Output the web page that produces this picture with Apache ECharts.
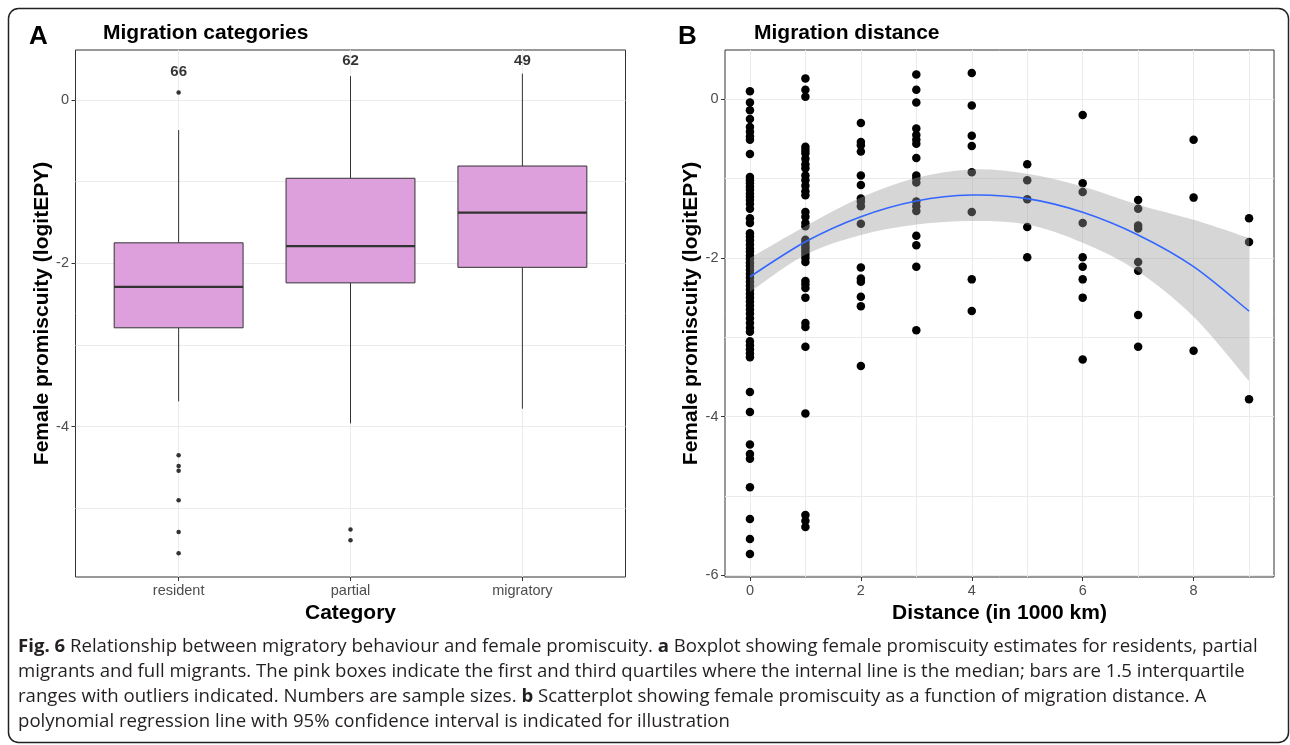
<!DOCTYPE html>
<html><head><meta charset="utf-8">
<script src="https://cdn.jsdelivr.net/npm/echarts@6/dist/echarts.min.js"></script>
<style>html,body{margin:0;padding:0;background:#fff}#c{width:1290px;height:745px}</style>
</head><body><div id="c"></div>
<script>
// ---------- Panel A: migration categories ----------
const categories = ['resident', 'partial', 'migratory'];
const sampleSizes = [66, 62, 49];
const sampleLabelY = [0.34, 0.48, 0.48];
// [lower whisker, Q1, median, Q3, upper whisker]
const boxResident = [-3.69, -2.79, -2.29, -1.75, -0.37];
const boxPartial = [-3.96, -2.24, -1.79, -0.96, 0.29];
const boxMigratory = [-3.78, -2.05, -1.38, -0.81, 0.32];
const outliersResident = [0.09, -4.35, -4.48, -4.54, -4.90, -5.29, -5.55];
const outliersPartial = [-5.26, -5.39];
const outliersMigratory = [];
const yTicksA = [-4, -2, 0];
const yGridA = [-5, -4, -3, -2, -1, 0];

// ---------- Panel B: migration distance ----------
const dist0 = [0.10, -0.04, -0.14, -0.25, -0.35, -0.41, -0.47, -0.51, -0.69,
  -0.98, -1.02, -1.06, -1.10, -1.14, -1.19, -1.23, -1.27, -1.32, -1.38,
  -1.50, -1.56,
  -1.69, -1.73, -1.78, -1.83, -1.88, -1.92, -1.97, -2.01, -2.06, -2.10, -2.15, -2.20, -2.25,
  -2.30, -2.35, -2.40, -2.45, -2.50, -2.55, -2.60, -2.65, -2.70, -2.76, -2.82, -2.88, -2.93,
  -3.05, -3.10, -3.15, -3.20, -3.25,
  -3.69, -3.94, -4.35, -4.47, -4.53, -4.89, -5.29, -5.54, -5.73];
const dist1 = [0.26, 0.12, 0.03, -0.60, -0.64, -0.68, -0.75, -0.82, -0.87, -0.96, -1.02, -1.09,
  -1.16, -1.21, -1.42, -1.48, -1.56, -1.60, -1.77, -1.81, -1.85, -1.88, -1.92, -1.96, -2.00,
  -2.05, -2.29, -2.33, -2.38, -2.50, -2.82, -2.87, -3.12, -3.96, -5.24, -5.31, -5.39];
const dist2 = [-0.30, -0.54, -0.58, -0.66, -0.96, -1.08, -1.25, -1.29, -1.35, -1.57, -2.12, -2.26, -2.30, -2.49, -2.61, -3.36];
const dist3 = [0.31, 0.12, -0.04, -0.37, -0.45, -0.51, -0.56, -0.74, -0.96, -1.00, -1.05, -1.29, -1.35, -1.41, -1.72, -1.84, -2.11, -2.91];
const dist4 = [0.33, -0.08, -0.46, -0.59, -0.92, -1.42, -2.27, -2.67];
const dist5 = [-0.82, -1.02, -1.26, -1.61, -1.99];
const dist6 = [-0.20, -1.06, -1.17, -1.56, -1.99, -2.11, -2.27, -2.50, -3.28];
const dist7 = [-1.27, -1.38, -1.59, -1.63, -2.05, -2.16, -2.72, -3.12];
const dist8 = [-0.51, -1.24, -3.17];
const dist9 = [-1.50, -1.80, -3.78];
const distColumns = [dist0, dist1, dist2, dist3, dist4, dist5, dist6, dist7, dist8, dist9];

const fitX = [0, 1, 2, 3, 4, 5, 6, 7, 8, 9];
const fitY = [-2.237, -1.796, -1.48, -1.282, -1.207, -1.253, -1.425, -1.711, -2.11, -2.67];
const ciUpper = [-2.00, -1.60, -1.24, -0.99, -0.885, -0.94, -1.10, -1.33, -1.52, -1.75];
const ciLower = [-2.43, -1.96, -1.71, -1.58, -1.535, -1.58, -1.81, -2.17, -2.74, -3.55];
const xTicksB = [0, 2, 4, 6, 8];
const xGridB = [0, 1, 2, 3, 4, 5, 6, 7, 8, 9];
const yTicksB = [-6, -4, -2, 0];
const yGridB = [-6, -5, -4, -3, -2, -1, 0];

// ---------- build ----------
const FONT = "'Liberation Sans', Arial, Helvetica, sans-serif";
const CAP = "'Open Sans', sans-serif";
const CAPSIZE = 18.6;
const labelStyle = { color: '#4D4D4D', fontSize: 14.5, fontFamily: FONT };
const nameStyle = { color: '#000', fontSize: 21, fontWeight: 'bold', fontFamily: FONT };
const gridLine = { show: true, lineStyle: { color: '#EBEBEB', width: 1 } };
const tickStyle = { show: true, length: 4, lineStyle: { color: '#333', width: 1 } };
const noLine = { show: false, onZero: false };

const boxes = [boxResident, boxPartial, boxMigratory].map((b, i) => [i + 1].concat(b));
const outlierData = [];
[outliersResident, outliersPartial, outliersMigratory].forEach((arr, i) => arr.forEach(v => outlierData.push([i + 1, v])));
const nLabels = sampleSizes.map((n, i) => [i + 1, sampleLabelY[i], n]);

const scatterB = [];
distColumns.forEach((col, d) => col.forEach(v => scatterB.push([d, v])));
const bandData = fitX.map((x, i) => [x, ciLower[i], ciUpper[i]]);
const fitData = fitX.map((x, i) => [x, fitY[i]]);

// Catmull-Rom -> cubic Bezier path through screen points (drawing only)
function curveThrough(pts, moveFirst) {
  let d = (moveFirst ? 'M' : 'L') + pts[0][0] + ',' + pts[0][1];
  for (let i = 0; i < pts.length - 1; i++) {
    const p0 = pts[Math.max(i - 1, 0)], p1 = pts[i], p2 = pts[i + 1], p3 = pts[Math.min(i + 2, pts.length - 1)];
    const c1 = [p1[0] + (p2[0] - p0[0]) / 6, p1[1] + (p2[1] - p0[1]) / 6];
    const c2 = [p2[0] - (p3[0] - p1[0]) / 6, p2[1] - (p3[1] - p1[1]) / 6];
    d += 'C' + c1[0] + ',' + c1[1] + ' ' + c2[0] + ',' + c2[1] + ' ' + p2[0] + ',' + p2[1];
  }
  return d;
}

const chart = echarts.init(document.getElementById('c'), null, { renderer: 'canvas' });
chart.setOption({
  animation: false,
  backgroundColor: '#fff',
  grid: [
    { left: 75.5, top: 50, width: 550, height: 527, show: true, borderColor: '#333', borderWidth: 1, backgroundColor: 'transparent' },
    { left: 725, top: 50, width: 549, height: 527, show: true, borderColor: '#333', borderWidth: 1, backgroundColor: 'transparent' }
  ],
  xAxis: [
    { gridIndex: 0, type: 'value', min: 0.4, max: 3.6, position: 'bottom',
      axisLine: noLine, axisTick: Object.assign({ customValues: [1, 2, 3] }, tickStyle),
      axisLabel: Object.assign({ customValues: [1, 2, 3], margin: 6, formatter: v => categories[Math.round(v) - 1] }, labelStyle),
      splitLine: gridLine,
      name: 'Category', nameLocation: 'middle', nameGap: 12, nameTextStyle: nameStyle },
    { gridIndex: 1, type: 'value', min: -0.45, max: 9.45, position: 'bottom',
      axisLine: noLine, axisTick: { show: false, customValues: xGridB },
      axisLabel: Object.assign({ customValues: xTicksB, margin: 6 }, labelStyle),
      splitLine: gridLine,
      name: 'Distance (in 1000 km)', nameLocation: 'middle', nameGap: 12, nameTextStyle: nameStyle },
    { gridIndex: 1, type: 'value', min: -0.45, max: 9.45, position: 'bottom',
      axisLine: noLine, axisTick: Object.assign({ customValues: xTicksB }, tickStyle),
      axisLabel: { show: false }, splitLine: { show: false } }
  ],
  yAxis: [
    { gridIndex: 0, type: 'value', min: -5.84, max: 0.61, position: 'left',
      axisLine: noLine, axisTick: { show: false, customValues: yGridA },
      axisLabel: Object.assign({ customValues: yTicksA, margin: 6.5 }, labelStyle),
      splitLine: gridLine,
      name: 'Female promiscuity (logitEPY)', nameLocation: 'middle', nameGap: 17, nameTextStyle: nameStyle },
    { gridIndex: 0, type: 'value', min: -5.84, max: 0.61, position: 'left',
      axisLine: noLine, axisTick: Object.assign({ customValues: yTicksA }, tickStyle),
      axisLabel: { show: false }, splitLine: { show: false } },
    { gridIndex: 1, type: 'value', min: -6.02, max: 0.62, position: 'left',
      axisLine: noLine, axisTick: { show: false, customValues: yGridB },
      axisLabel: Object.assign({ customValues: yTicksB, margin: 6.5 }, labelStyle),
      splitLine: gridLine,
      name: 'Female promiscuity (logitEPY)', nameLocation: 'middle', nameGap: 16, nameTextStyle: nameStyle },
    { gridIndex: 1, type: 'value', min: -6.02, max: 0.62, position: 'left',
      axisLine: noLine, axisTick: Object.assign({ customValues: yTicksB }, tickStyle),
      axisLabel: { show: false }, splitLine: { show: false } }
  ],
  series: [
    { type: 'custom', xAxisIndex: 0, yAxisIndex: 0, data: boxes, z: 3,
      encode: { x: 0, y: [1, 2, 3, 4, 5] },
      renderItem: function (params, api) {
        const x = api.value(0), lo = api.value(1), q1 = api.value(2), med = api.value(3), q3 = api.value(4), hi = api.value(5);
        const hw = 0.375;
        const pLo = api.coord([x, lo]), pQ1 = api.coord([x, q1]), pQ3 = api.coord([x, q3]), pHi = api.coord([x, hi]);
        const l = api.coord([x - hw, q1])[0], r = api.coord([x + hw, q1])[0];
        const m = api.coord([x, med])[1];
        return { type: 'group', children: [
          { type: 'line', shape: { x1: pLo[0], y1: pLo[1], x2: pQ1[0], y2: pQ1[1] }, style: { stroke: '#333', lineWidth: 1 } },
          { type: 'line', shape: { x1: pQ3[0], y1: pQ3[1], x2: pHi[0], y2: pHi[1] }, style: { stroke: '#333', lineWidth: 1 } },
          { type: 'rect', shape: { x: l, y: pQ3[1], width: r - l, height: pQ1[1] - pQ3[1] }, style: { fill: '#DDA0DD', stroke: '#333', lineWidth: 1 } },
          { type: 'line', shape: { x1: l, y1: m, x2: r, y2: m }, style: { stroke: '#333', lineWidth: 2.2 } }
        ] };
      } },
    { type: 'scatter', xAxisIndex: 0, yAxisIndex: 0, data: outlierData, symbolSize: 4.5,
      itemStyle: { color: '#333', opacity: 1 }, z: 4 },
    { type: 'scatter', xAxisIndex: 0, yAxisIndex: 0, data: nLabels, symbolSize: 1,
      itemStyle: { color: 'transparent' },
      label: { show: true, position: 'inside', formatter: p => String(p.value[2]), color: '#000', fontSize: 15, fontWeight: 'bold', fontFamily: FONT } },
    { type: 'scatter', xAxisIndex: 1, yAxisIndex: 2, data: scatterB, symbolSize: 8.5,
      itemStyle: { color: '#000', opacity: 1 }, z: 2 },
    { type: 'custom', xAxisIndex: 1, yAxisIndex: 2, data: bandData, z: 3,
      encode: { x: 0, y: [1, 2] },
      renderItem: function (params, api) {
        if (params.dataIndex !== 0) return null;
        const upper = bandData.map(r => api.coord([r[0], r[2]]));
        const lower = bandData.map(r => api.coord([r[0], r[1]])).reverse();
        const d = curveThrough(upper, true) + curveThrough(lower, false) + 'Z';
        return { type: 'path', shape: { pathData: d }, style: { fill: 'rgba(153,153,153,0.4)', stroke: 'none' } };
      } },
    { type: 'custom', xAxisIndex: 1, yAxisIndex: 2, data: fitData, z: 4,
      encode: { x: 0, y: 1 },
      renderItem: function (params, api) {
        if (params.dataIndex !== 0) return null;
        const pts = fitData.map(r => api.coord(r));
        return { type: 'path', shape: { pathData: curveThrough(pts, true) }, style: { fill: 'none', stroke: '#3366FF', lineWidth: 1.6 } };
      } }
  ],
  graphic: [
    { type: 'rect', shape: { x: 8.5, y: 8.5, width: 1280, height: 734, r: 10 }, style: { fill: 'none', stroke: '#222', lineWidth: 1.5 }, z: 0 },
    { type: 'text', style: { x: 29, y: 37, text: 'A', font: "bold 26px " + FONT, fill: '#000', verticalAlign: 'middle' } },
    { type: 'text', style: { x: 103, y: 33, text: 'Migration categories', font: "bold 21px " + FONT, fill: '#000', verticalAlign: 'middle' } },
    { type: 'text', style: { x: 678, y: 37, text: 'B', font: "bold 26px " + FONT, fill: '#000', verticalAlign: 'middle' } },
    { type: 'text', style: { x: 754, y: 33, text: 'Migration distance', font: "bold 21px " + FONT, fill: '#000', verticalAlign: 'middle' } },
    { type: 'text', style: { x: 18, y: 647, verticalAlign: 'middle', fill: '#231f20', font: CAPSIZE + "px " + CAP,
      text: '{b|Fig. 6} Relationship between migratory behaviour and female promiscuity. {b|a} Boxplot showing female promiscuity estimates for residents, partial',
      rich: { b: { fontWeight: 'bold', fontSize: CAPSIZE, fontFamily: CAP } } } },
    { type: 'text', style: { x: 18, y: 672, verticalAlign: 'middle', fill: '#231f20', font: CAPSIZE + "px " + CAP,
      text: 'migrants and full migrants. The pink boxes indicate the first and third quartiles where the internal line is the median; bars are 1.5 interquartile' } },
    { type: 'text', style: { x: 18, y: 697, verticalAlign: 'middle', fill: '#231f20', font: CAPSIZE + "px " + CAP,
      text: 'ranges with outliers indicated. Numbers are sample sizes. {b|b} Scatterplot showing female promiscuity as a function of migration distance. A',
      rich: { b: { fontWeight: 'bold', fontSize: CAPSIZE, fontFamily: CAP } } } },
    { type: 'text', style: { x: 18, y: 722, verticalAlign: 'middle', fill: '#231f20', font: CAPSIZE + "px " + CAP,
      text: 'polynomial regression line with 95% confidence interval is indicated for illustration' } }
  ]
});
</script></body></html>
